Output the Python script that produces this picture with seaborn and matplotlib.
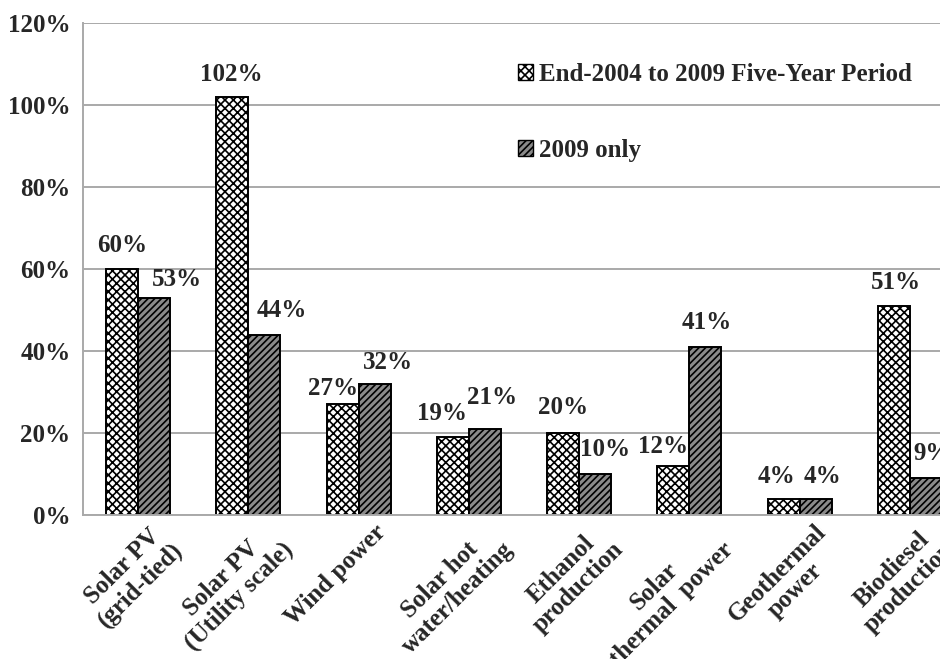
import matplotlib
matplotlib.use("Agg")
import matplotlib.pyplot as plt
import matplotlib.patches as mpatches
from matplotlib.transforms import ScaledTranslation
import seaborn as sns
import pandas as pd

# Growth rates of renewable energy capacity / production
categories = [
    "Solar PV\n(grid-tied)",
    "Solar PV\n(Utility scale)",
    "Wind power",
    "Solar hot\nwater/heating",
    "Ethanol\nproduction",
    "Solar\nthermal  power",
    "Geothermal\npower",
    "Biodiesel\nproduction",
]
series_names = ["End-2004 to 2009 Five-Year Period", "2009 only"]
five_year = [60, 102, 27, 19, 20, 12, 4, 51]
only_2009 = [53, 44, 32, 21, 10, 41, 4, 9]
y_ticks = [0, 20, 40, 60, 80, 100, 120]

# small pixel nudges for the value labels (dx, dy above bar top)
nudge_five_year = [(0, 24), (-1, 22), (-10, 16), (-11, 24), (0, 25), (-10, 19), (-7, 22), (2, 23)]
nudge_2009 = [(23, 18), (17, 24), (13, 21), (7, 31), (10, 24), (1, 24), (7, 22), (6, 25)]

df = pd.DataFrame({
    "category": categories * 2,
    "series": [series_names[0]] * len(categories) + [series_names[1]] * len(categories),
    "value": five_year + only_2009,
})

sns.set_theme(style="white")
plt.rcParams["font.family"] = ["Liberation Serif", "DejaVu Serif"]
plt.rcParams["font.weight"] = "bold"
plt.rcParams["hatch.linewidth"] = 1.2
plt.rcParams["hatch.color"] = "#222222"

FS = 18
GRID = "#a9a9a9"
LIGHT_FILL, DARK_FILL = "white", "#8a8a8a"
LIGHT_HATCH, DARK_HATCH = "xxxx", "/////"

fig = plt.figure(figsize=(9.4, 6.59), dpi=100)
ax = fig.add_axes([83 / 940, 144 / 659, 882 / 940, 492 / 659])

sns.barplot(
    data=df, x="category", y="value", hue="series", order=categories,
    hue_order=series_names, width=0.58, gap=0, ax=ax, legend=False,
    palette=[LIGHT_FILL, DARK_FILL], edgecolor="black", linewidth=1.4,
    saturation=1,
)

styles = [(LIGHT_FILL, LIGHT_HATCH), (DARK_FILL, DARK_HATCH)]
for cont, (fc, h) in zip(ax.containers, styles):
    for bar in cont:
        bar.set_facecolor(fc)
        bar.set_hatch(h)
        bar.set_edgecolor("black")

# value labels
for cont, vals, nudges in zip(ax.containers, [five_year, only_2009], [nudge_five_year, nudge_2009]):
    for bar, v, (dx, dy) in zip(cont, vals, nudges):
        xc = bar.get_x() + bar.get_width() / 2
        ax.annotate(f"{v}%", (xc, v), xytext=(dx, dy), textcoords="offset pixels",
                    ha="center", va="center", fontsize=FS, fontweight="bold",
                    annotation_clip=False)

ax.set_xlim(-0.5, 7.5)
ax.set_ylim(0, 120)
ax.set_yticks(y_ticks)
ax.set_yticklabels([f"{t}%" for t in y_ticks], fontsize=FS, fontweight="bold")
ax.yaxis.grid(True, color=GRID, linewidth=1.4)
ax.set_axisbelow(True)
ax.tick_params(axis="y", length=6, color=GRID, width=1.2, pad=3)
ax.tick_params(axis="x", length=0, pad=0)
ax.set_xlabel("")
ax.set_ylabel("")

for side in ["top", "right"]:
    ax.spines[side].set_visible(False)
for side in ["left", "bottom"]:
    ax.spines[side].set_color(GRID)
    ax.spines[side].set_linewidth(1.4)

ax.set_xticks(range(len(categories)))
ax.set_xticklabels(categories, rotation=45, ha="right", va="top",
                   rotation_mode="anchor", multialignment="center",
                   fontsize=FS, fontweight="bold", linespacing=1.1)
shift = ScaledTranslation(15 / 100, -5 / 100, fig.dpi_scale_trans)
for lab in ax.get_xticklabels():
    lab.set_transform(lab.get_transform() + shift)

handles = [
    mpatches.Patch(facecolor=LIGHT_FILL, edgecolor="black", hatch=LIGHT_HATCH, linewidth=1.0),
    mpatches.Patch(facecolor=DARK_FILL, edgecolor="black", hatch=DARK_HATCH, linewidth=1.0),
]
leg = ax.legend(handles, series_names, loc="upper left",
                bbox_to_anchor=(518 / 940, 1 - 63 / 659), bbox_transform=fig.transFigure,
                frameon=False, borderpad=0, borderaxespad=0, handlelength=0.6,
                handleheight=0.6, handletextpad=0.25, labelspacing=2.1,
                prop={"size": FS, "weight": "bold", "family": "Liberation Serif"})

fig.savefig("out.png", dpi=100)
